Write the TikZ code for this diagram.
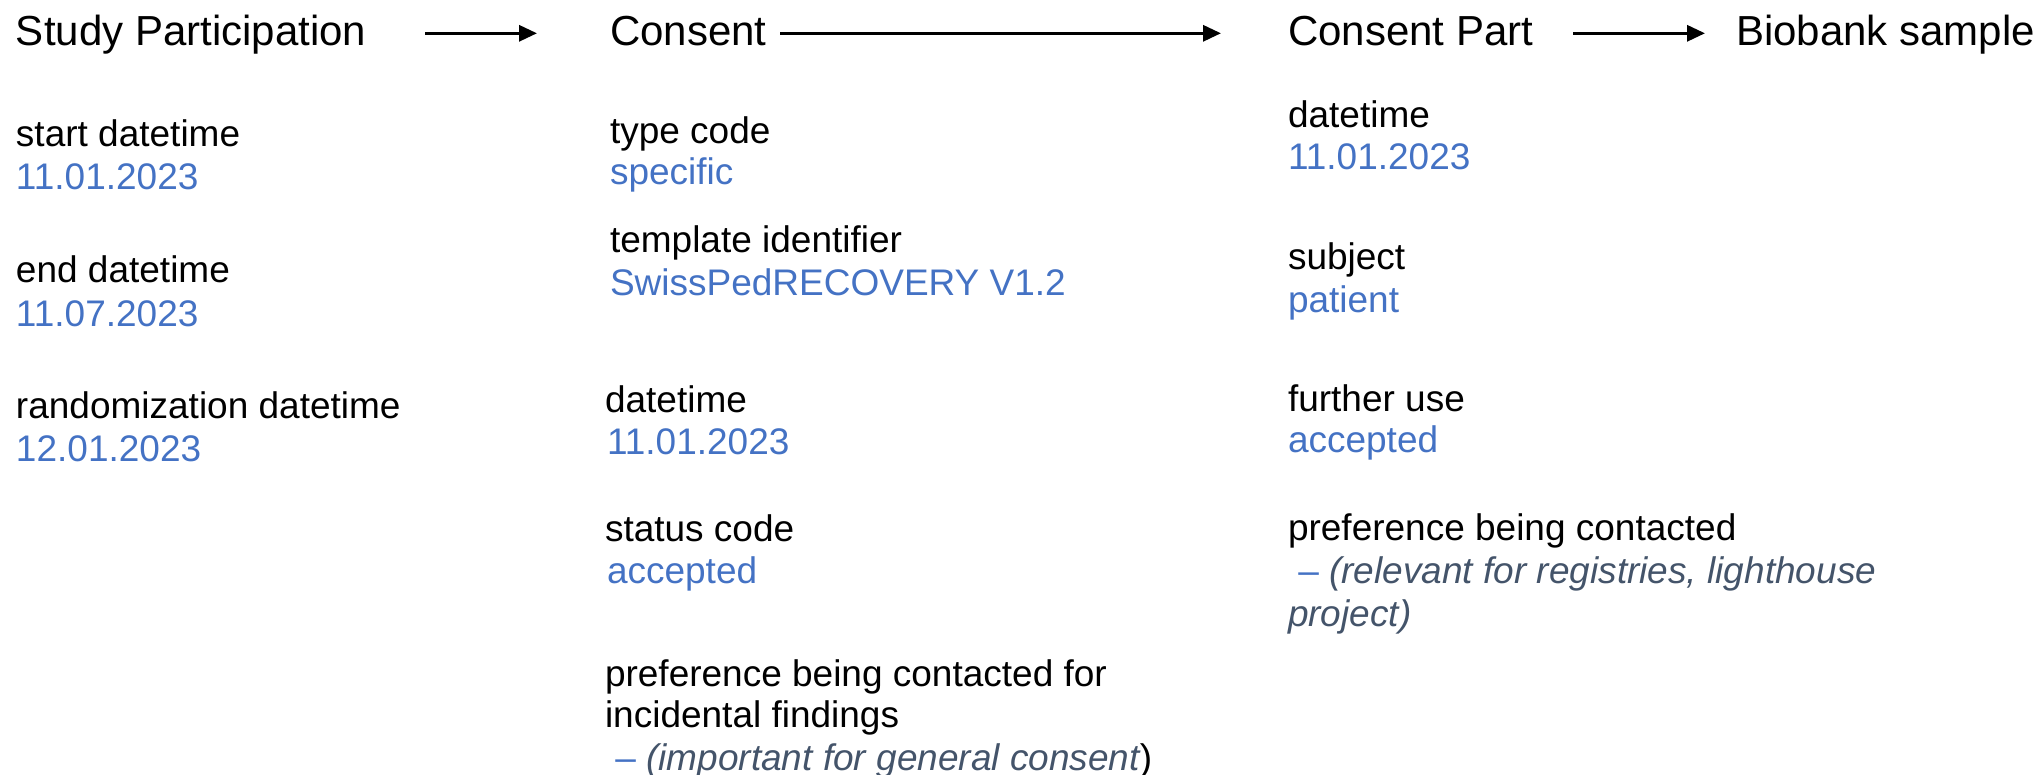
\documentclass[tikz,border=0pt]{standalone}
\usepackage{fontspec}
\setmainfont{Liberation Sans}
\usepackage{tikz}
\usetikzlibrary{arrows.meta}
\definecolor{valblue}{RGB}{68,114,196}
\definecolor{notegrey}{RGB}{68,84,106}

\begin{document}
\begin{tikzpicture}[x=0.5pt, y=-0.5pt,
  every node/.style={anchor=base west, inner sep=0pt, outer sep=0pt},
  head/.style={font=\fontsize{21}{25}\selectfont, text height=14.7pt, text depth=2pt},
  lbl/.style={font=\fontsize{18.5}{22}\selectfont},
  val/.style={lbl, text=valblue},
  link/.style={line width=1.6pt, -{Triangle[length=9pt,width=8pt]}}]
\useasboundingbox (0,0) rectangle (2044,775);
\node[head] (sp) at (16,46) {Study Participation};
\node[head] (con) at (610,46) {Consent};
\node[head] (cp) at (1288,46) {Consent Part};
\node[head] (bio) at (1736,46) {Biobank sample};
\draw[link, shorten <=29.5pt, shorten >=36.5pt] (sp) -- (con);
\draw[link, shorten <=6.8pt, shorten >=33.5pt] (con) -- (cp);
\draw[link, shorten <=20pt, shorten >=15.5pt] (cp) -- (bio);
\node[lbl] (sp-start) at (16,147) {start datetime};
\node[val] (sp-startv) at (16,190) {11.01.2023};
\node[lbl] (sp-end) at (16,283) {end datetime};
\node[val] (sp-endv) at (16,326) {11.07.2023};
\node[lbl] (sp-rand) at (16,418) {randomization datetime};
\node[val] (sp-randv) at (16,461) {12.01.2023};
\node[lbl] (con-type) at (610,144) {type code};
\node[val] (con-typev) at (610,185) {specific};
\node[lbl] (con-tmpl) at (610,253) {template identifier};
\node[val] (con-tmplv) at (610,295) {SwissPedRECOVERY V1.2};
\node[lbl] (con-dt) at (605,412) {datetime};
\node[val] (con-dtv) at (607,454) {11.01.2023};
\node[lbl] (con-stat) at (605,541) {status code};
\node[val] (con-statv) at (607,583) {accepted};
\node[lbl] (con-pref) at (605,686) {preference being contacted for};
\node[lbl] (con-pref2) at (605,727) {incidental findings};
\node[lbl] (con-note) at (605,770) {\hspace{0.28em}\textcolor{valblue}{–} \textcolor{notegrey}{\itshape (important for general consent})};
\node[lbl] (cp-dt) at (1288,128) {datetime};
\node[val] (cp-dtv) at (1288,170) {11.01.2023};
\node[lbl] (cp-subj) at (1288,270) {subject};
\node[val] (cp-subjv) at (1288,313) {patient};
\node[lbl] (cp-use) at (1288,411) {further use};
\node[val] (cp-usev) at (1288,452) {accepted};
\node[lbl] (cp-pref) at (1288,540) {preference being contacted};
\node[lbl] (cp-note) at (1288,583) {\hspace{0.28em}\textcolor{valblue}{–} \textcolor{notegrey}{\itshape (relevant for registries, lighthouse}};
\node[lbl] (cp-note2) at (1288,626) {\textcolor{notegrey}{\itshape project)}};
\end{tikzpicture}
\end{document}
